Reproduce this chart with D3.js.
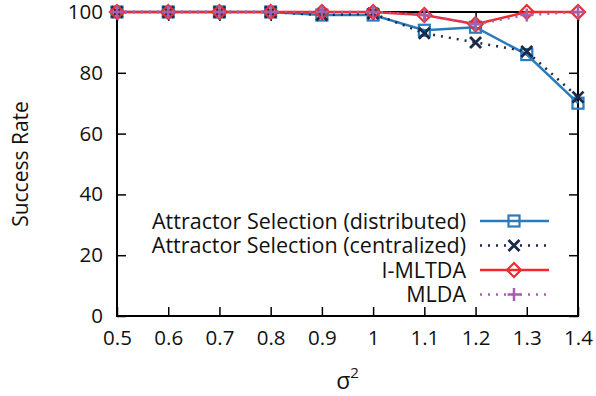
<!DOCTYPE html>
<html>
<head>
<meta charset="utf-8">
<script src="https://cdn.jsdelivr.net/npm/d3@7"></script>
<style>
  body { margin: 0; background: #fff; }
  svg text { font-family: "Open Sans", sans-serif; fill: #111; }
</style>
</head>
<body>
<div id="chart"></div>
<script>
// data
const xs = [0.5, 0.6, 0.7, 0.8, 0.9, 1.0, 1.1, 1.2, 1.3, 1.4]
const distributed = [100, 100, 100, 100, 99, 99, 94, 95, 86, 70]
const centralized = [100, 100, 100, 100, 99, 99.5, 93, 90, 87, 72]
const imltda = [100, 100, 100, 100, 100, 100, 99, 96, 100, 100]
const mlda = [100, 100, 100, 100, 100, 100, 99, 96, 99, 100]
const xTicks = [0.5, 0.6, 0.7, 0.8, 0.9, 1, 1.1, 1.2, 1.3, 1.4]
const yTicks = [0, 20, 40, 60, 80, 100]
const names = ['Attractor Selection (distributed)', 'Attractor Selection (centralized)', 'I-MLTDA', 'MLDA']

const series = [
  { name: names[0], values: distributed, color: '#2a7bbd', dash: null, marker: 'square' },
  { name: names[1], values: centralized, color: '#1b2a48', dash: '2,6', marker: 'x' },
  { name: names[2], values: imltda, color: '#ee2b2f', dash: null, marker: 'diamond' },
  { name: names[3], values: mlda, color: '#a45fb0', dash: '2,6', marker: 'plus' },
]

const width = 596, height = 396
const margin = { left: 117, right: 18, top: 12, bottom: 80 }

const svg = d3.select('#chart').append('svg')
  .attr('width', width)
  .attr('height', height)

const x = d3.scaleLinear().domain([0.5, 1.4]).range([margin.left, width - margin.right])
const y = d3.scaleLinear().domain([0, 100]).range([height - margin.bottom, margin.top])

//axes (ticks inward on all sides)
const tick = 9
svg.append('g')
  .attr('transform', `translate(0,${y(0)})`)
  .call(d3.axisBottom(x).tickValues(xTicks).tickSize(-tick).tickPadding(14).tickFormat(d3.format('')))
  .call(g => g.select('.domain').remove())
svg.append('g')
  .attr('transform', `translate(${x(0.5)},0)`)
  .call(d3.axisLeft(y).tickValues(yTicks).tickSize(-tick).tickPadding(14))
  .call(g => g.select('.domain').remove())
svg.append('g')
  .attr('transform', `translate(0,${y(100)})`)
  .call(d3.axisTop(x).tickValues(xTicks).tickSize(-tick).tickFormat(''))
  .call(g => g.select('.domain').remove())
svg.append('g')
  .attr('transform', `translate(${x(1.4)},0)`)
  .call(d3.axisRight(y).tickValues(yTicks).tickSize(-tick).tickFormat(''))
  .call(g => g.select('.domain').remove())

svg.selectAll('.tick line').attr('stroke', '#000').attr('stroke-width', 1.5)
svg.selectAll('.tick text').attr('font-size', 20.5).attr('font-family', '"Open Sans", sans-serif').attr('fill', '#111')

svg.append('rect')
  .attr('x', x(0.5)).attr('y', y(100))
  .attr('width', x(1.4) - x(0.5)).attr('height', y(0) - y(100))
  .attr('fill', 'none').attr('stroke', '#000').attr('stroke-width', 2)

//labels
svg.append('text')
  .attr('transform', `translate(28,${(y(0) + y(100)) / 2}) rotate(-90)`)
  .attr('text-anchor', 'middle')
  .attr('font-size', 21)
  .text('Success Rate')

const xl = svg.append('text')
  .attr('x', (x(0.5) + x(1.4)) / 2)
  .attr('y', 389)
  .attr('text-anchor', 'middle')
  .attr('font-size', 23)
xl.append('tspan').text('σ')
xl.append('tspan').attr('font-size', 15).attr('dy', -11).text('2')

//markers
function marker(g, type, color) {
  if (type === 'square') {
    g.append('rect').attr('x', -5.5).attr('y', -5.5).attr('width', 11).attr('height', 11)
      .attr('fill', 'none').attr('stroke', color).attr('stroke-width', 2.2)
  } else if (type === 'x') {
    g.append('path').attr('d', 'M-5.5,-5.5L5.5,5.5M-5.5,5.5L5.5,-5.5')
      .attr('stroke', color).attr('stroke-width', 2.8)
  } else if (type === 'diamond') {
    g.append('path').attr('d', 'M0,-7L7,0L0,7L-7,0Z')
      .attr('fill', 'none').attr('stroke', color).attr('stroke-width', 2.2)
  } else if (type === 'plus') {
    g.append('path').attr('d', 'M-6.5,0L6.5,0M0,-6.5L0,6.5')
      .attr('stroke', color).attr('stroke-width', 2.5)
  }
}

const line = d3.line().x((d, i) => x(xs[i])).y(d => y(d))

series.forEach(s => {
  svg.append('path')
    .datum(s.values)
    .attr('d', line)
    .attr('fill', 'none')
    .attr('stroke', s.color)
    .attr('stroke-width', 2.5)
    .attr('stroke-dasharray', s.dash)
  s.values.forEach((v, i) => {
    marker(svg.append('g').attr('transform', `translate(${x(xs[i])},${y(v)})`), s.marker, s.color)
  })
})

//legend
const legend = svg.append('g')
series.forEach((s, i) => {
  const ly = 221 + i * 24.5
  legend.append('text')
    .attr('x', 466).attr('y', ly).attr('dy', '0.35em')
    .attr('text-anchor', 'end').attr('font-size', 21.5)
    .text(s.name)
  legend.append('line')
    .attr('x1', 480).attr('x2', 549).attr('y1', ly).attr('y2', ly)
    .attr('stroke', s.color).attr('stroke-width', 2.5)
    .attr('stroke-dasharray', s.dash)
  marker(legend.append('g').attr('transform', `translate(514,${ly})`), s.marker, s.color)
})
</script>
</body>
</html>
